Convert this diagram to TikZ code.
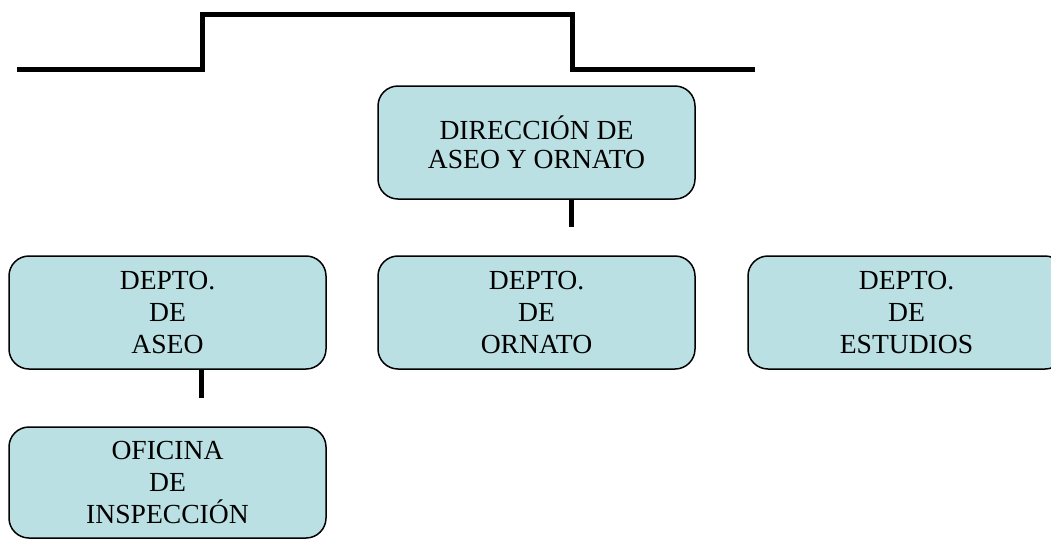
\documentclass[tikz,border=0pt]{standalone}
\usepackage{fontspec}
\setmainfont{Liberation Serif}
\usepackage{xcolor}
\definecolor{boxfill}{RGB}{187,224,227}

\tikzset{
  unit/.style={draw=black, line width=1.5pt, fill=boxfill, rounded corners=20pt,
    minimum width=317pt, minimum height=113pt, align=center, inner sep=0pt,
    font=\fontsize{27.6}{32}\selectfont},
  wire/.style={line width=5pt}
}

\begin{document}
\begin{tikzpicture}[x=1pt,y=-1pt]
\clip (0,0) rectangle (1051,539);

\node[unit] (dir) at (536.5,142.5) {DIRECCIÓN DE\\[-3pt]ASEO Y ORNATO};

\node[unit] (aseo) at (167.5,312.5) {DEPTO.\\DE\\ASEO};
\node[unit] (ornato) at (536.5,312.5) {DEPTO.\\DE\\ORNATO};
\node[unit] (estudios) at (906.5,312.5) {DEPTO.\\DE\\ESTUDIOS};

\node[unit, minimum height=111pt] (insp) at (167.5,482.5) {OFICINA\\DE\\INSPECCIÓN};

% stubs under the boxes
\coordinate (dirstub) at (571,227);
\coordinate (aseostub) at (201,398);
\draw[wire] (dirstub |- dir.south) -- (dirstub);
\draw[wire] (aseostub |- aseo.south) -- (aseostub);

% top bracket
\draw[wire] (17,69) -- (202,69) -- (202,14) -- (572,14) -- (572,69) -- (755,69);
\end{tikzpicture}
\end{document}
